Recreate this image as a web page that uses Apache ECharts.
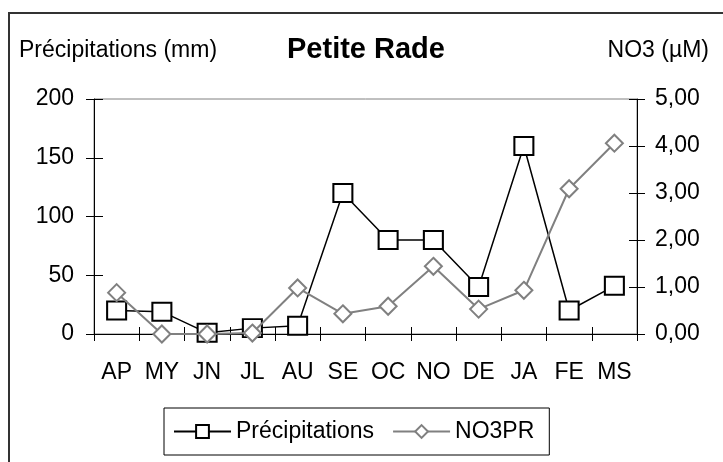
<!DOCTYPE html>
<html>
<head>
<meta charset="utf-8">
<script src="https://cdn.jsdelivr.net/npm/echarts@6/dist/echarts.min.js"></script>
<style>
  html, body { margin: 0; padding: 0; background: #fff; }
  #chart { width: 723px; height: 462px; }
</style>
</head>
<body>
<div id="chart"></div>
<script>
// mois (avril -> mars)
const months = ['AP', 'MY', 'JN', 'JL', 'AU', 'SE', 'OC', 'NO', 'DE', 'JA', 'FE', 'MS']
// précipitations en mm (axe gauche)
const precip = [20, 19, 1, 5, 7, 120, 80, 80, 40, 160, 20, 41]
// nitrates en µM (axe droit)
const no3 = [0.88, 0, 0, 0.02, 0.98, 0.43, 0.59, 1.44, 0.53, 0.93, 3.09, 4.06]

const font = 'Liberation Sans, Arial, sans-serif'
const chart = echarts.init(document.getElementById('chart'))

chart.setOption({
  animation: false,
  textStyle: { fontFamily: font, color: '#000' },
  title: [
    {
      text: 'Petite Rade',
      left: 287,
      top: 35,
      padding: 0,
      textStyle: { fontSize: 29, fontWeight: 'bold', color: '#000', fontFamily: font }
    },
    {
      text: 'Précipitations (mm)',
      left: 19,
      top: 39,
      padding: 0,
      textStyle: { fontSize: 23, fontWeight: 'normal', color: '#000', fontFamily: font }
    },
    {
      text: 'NO3 (µM)',
      right: 14,
      top: 39,
      padding: 0,
      textStyle: { fontSize: 23, fontWeight: 'normal', color: '#000', fontFamily: font }
    }
  ],
  // cadre extérieur
  graphic: [
    {
      type: 'rect',
      shape: { x: 9, y: 13, width: 800, height: 600 },
      style: { fill: null, stroke: '#333', lineWidth: 2 },
      silent: true
    }
  ],
  legend: {
    left: 164,
    top: 408,
    padding: [12, 15, 12, 9],
    itemWidth: 57,
    itemHeight: 16,
    itemGap: 18,
    borderColor: '#000',
    borderWidth: 1,
    textStyle: { fontSize: 23, color: '#000', fontFamily: font },
    data: ['Précipitations', 'NO3PR']
  },
  grid: {
    left: 94,
    right: 86,
    top: 99,
    bottom: 128,
    show: true,
    borderColor: '#808080',
    borderWidth: 1
  },
  xAxis: [
    {
      type: 'category',
      data: months,
      boundaryGap: true,
      axisLine: { lineStyle: { color: '#000', width: 1 } },
      axisTick: { show: true, length: 7, lineStyle: { color: '#000' } },
      axisLabel: { fontSize: 23, color: '#000', margin: 27, interval: 0 },
      splitLine: { show: false }
    },
    {
      // graduations intérieures (croisées)
      type: 'category',
      data: months,
      position: 'bottom',
      boundaryGap: true,
      axisLine: { show: false },
      axisTick: { show: true, inside: true, length: 7, lineStyle: { color: '#000' } },
      axisLabel: { show: false },
      splitLine: { show: false }
    }
  ],
  yAxis: [
    {
      type: 'value',
      min: 0,
      max: 200,
      interval: 50,
      position: 'left',
      axisLine: { show: true, lineStyle: { color: '#000' } },
      axisTick: { show: true, length: 8, lineStyle: { color: '#000' } },
      axisLabel: { fontSize: 23, color: '#000', margin: 20 },
      splitLine: { show: false }
    },
    {
      type: 'value',
      min: 0,
      max: 5,
      interval: 1,
      position: 'right',
      axisLine: { show: true, lineStyle: { color: '#000' } },
      axisTick: { show: true, length: 8, lineStyle: { color: '#000' } },
      axisLabel: {
        fontSize: 23,
        color: '#000',
        margin: 18,
        formatter: (v) => v.toFixed(2).replace('.', ',')
      },
      splitLine: { show: false }
    },
    {
      type: 'value',
      min: 0,
      max: 200,
      interval: 50,
      position: 'left',
      axisLine: { show: false },
      axisTick: { show: true, inside: true, length: 9, lineStyle: { color: '#000' } },
      axisLabel: { show: false },
      splitLine: { show: false }
    },
    {
      type: 'value',
      min: 0,
      max: 5,
      interval: 1,
      position: 'right',
      axisLine: { show: false },
      axisTick: { show: true, inside: true, length: 8, lineStyle: { color: '#000' } },
      axisLabel: { show: false },
      splitLine: { show: false }
    }
  ],
  series: [
    {
      name: 'Précipitations',
      type: 'line',
      yAxisIndex: 0,
      data: precip,
      symbol: 'rect',
      symbolSize: [19, 18],
      lineStyle: { color: '#000', width: 1.5 },
      itemStyle: { color: '#fff', borderColor: '#000', borderWidth: 2 },
      z: 2
    },
    {
      name: 'NO3PR',
      type: 'line',
      yAxisIndex: 1,
      data: no3,
      symbol: 'diamond',
      symbolSize: 17,
      lineStyle: { color: '#808080', width: 2 },
      itemStyle: { color: '#fff', borderColor: '#808080', borderWidth: 2 },
      z: 3
    }
  ]
})
</script>
</body>
</html>
